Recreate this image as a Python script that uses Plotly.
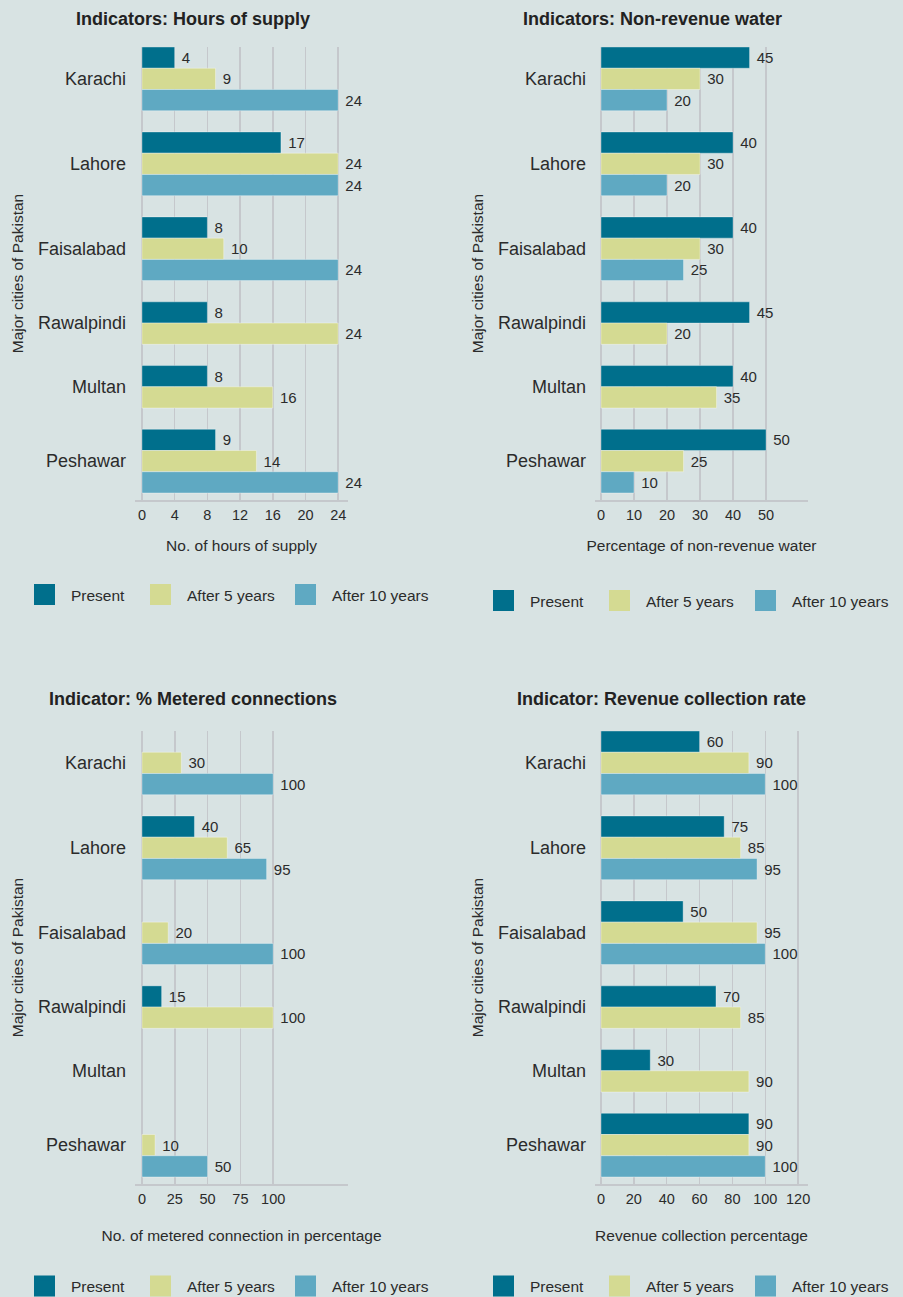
import plotly.graph_objects as go

# ---------------- data ----------------
cities = ["Karachi", "Lahore", "Faisalabad", "Rawalpindi", "Multan", "Peshawar"]
series_names = ["Present", "After 5 years", "After 10 years"]

# None = not applicable (no bar slot), 0 = slot left empty
hours_present = [4, 17, 8, 8, 8, 9]
hours_5y = [9, 24, 10, 24, 16, 14]
hours_10y = [24, 24, 24, None, None, 24]

nrw_present = [45, 40, 40, 45, 40, 50]
nrw_5y = [30, 30, 30, 20, 35, 25]
nrw_10y = [20, 20, 25, None, None, 10]

metered_present = [0, 40, 0, 15, 0, 0]
metered_5y = [30, 65, 20, 100, 0, 10]
metered_10y = [100, 95, 100, None, None, 50]

revenue_present = [60, 75, 50, 70, 30, 90]
revenue_5y = [90, 85, 95, 85, 90, 90]
revenue_10y = [100, 95, 100, None, None, 100]

hours_ticks = [0, 4, 8, 12, 16, 20, 24]
nrw_ticks = [0, 10, 20, 30, 40, 50]
metered_ticks = [0, 25, 50, 75, 100]
revenue_ticks = [0, 20, 40, 60, 80, 100, 120]

titles = ["Indicators: Hours of supply", "Indicators: Non-revenue water",
          "Indicator: % Metered connections", "Indicator: Revenue collection rate"]
x_titles = ["No. of hours of supply", "Percentage of non-revenue water",
            "No. of metered connection in percentage", "Revenue collection percentage"]
y_title = "Major cities of Pakistan"

# ---------------- style ----------------
W, H = 903, 1297
BG = "#d8e3e3"
COLORS = ["#006f8c", "#d4da92", "#5fa9c2"]
GRID = "#c5c8cc"
TEXT = "#2b2b2b"
FONT = "Liberation Sans, Arial, sans-serif"

panels = [
    dict(data=(hours_present, hours_5y, hours_10y), ticks=hours_ticks, xrange=[-0.85, 25.2],
         xdom=(135, 348), ydom=(47, 500), title_xy=(193, 19), legend_x=(34, 150, 295),
         legend_y=595, xtitle_standoff=18),
    dict(data=(nrw_present, nrw_5y, nrw_10y), ticks=nrw_ticks, xrange=[-1.82, 62.7],
         xdom=(595, 808), ydom=(47, 500), title_xy=(652, 19), legend_x=(493, 609, 755),
         legend_y=601, xtitle_standoff=18),
    dict(data=(metered_present, metered_5y, metered_10y), ticks=metered_ticks, xrange=[-5.3, 157],
         xdom=(135, 348), ydom=(731, 1184), title_xy=(193, 699), legend_x=(34, 150, 295),
         legend_y=1286.5, xtitle_standoff=24),
    dict(data=(revenue_present, revenue_5y, revenue_10y), ticks=revenue_ticks, xrange=[-3.65, 126],
         xdom=(595, 808), ydom=(731, 1184), title_xy=(661, 699), legend_x=(493, 609, 755),
         legend_y=1286.5, xtitle_standoff=24),
]

LEGEND_ITEM_WIDTH = 43
LEGEND_SYMBOL_OFFSET = 16    # px from legend origin to swatch left edge
GAP = 1.0                    # gap between city groups, in bar units
BOTTOM_PAD = 0.33            # padding under last bar, in bar units


def px(x):
    return x / W


def py(y):
    return 1 - y / H


def slot_layout(series_list):
    pos = 0.0
    ys = [[None] * len(cities) for _ in series_list]
    centers = []
    for c in range(len(cities)):
        start = pos
        for s, vals in enumerate(series_list):
            if vals[c] is not None:
                ys[s][c] = pos + 0.5
                pos += 1
        centers.append((start + pos) / 2)
        pos += GAP
    return ys, centers, pos - GAP


fig = go.Figure()
layout = dict(
    width=W, height=H, margin=dict(l=0, r=0, t=0, b=0, autoexpand=False),
    paper_bgcolor=BG, plot_bgcolor=BG, barmode="overlay",
    font=dict(family=FONT, color=TEXT, size=15),
    template="none", annotations=[],
)

legend_count = 0
for k, p in enumerate(panels):
    i = k + 1
    xa = "x" if i == 1 else f"x{i}"
    ya = "y" if i == 1 else f"y{i}"
    xkey = "xaxis" if i == 1 else f"xaxis{i}"
    ykey = "yaxis" if i == 1 else f"yaxis{i}"
    ys, centers, total = slot_layout(p["data"])

    for s, vals in enumerate(p["data"]):
        xs, yv, tx = [], [], []
        for c in range(len(cities)):
            v = vals[c]
            if v is None or v == 0:
                continue
            xs.append(v)
            yv.append(ys[s][c])
            tx.append(" " + str(v))
        fig.add_trace(go.Bar(
            x=xs, y=yv, orientation="h", width=1.0, name=series_names[s],
            text=tx, textposition="outside", cliponaxis=False, constraintext="none",
            textfont=dict(size=15, color=TEXT, family=FONT),
            marker=dict(color=COLORS[s], line=dict(color="rgba(255,255,255,0.35)", width=1)),
            xaxis=xa, yaxis=ya, showlegend=False, hoverinfo="skip",
        ))

    for s, name in enumerate(series_names):
        legend_count += 1
        lname = "legend" if legend_count == 1 else f"legend{legend_count}"
        fig.add_trace(go.Scatter(
            x=[None], y=[None], mode="markers", name=name,
            marker=dict(symbol="square", size=16, color=COLORS[s],
                        line=dict(color=COLORS[s], width=5)),
            xaxis=xa, yaxis=ya, legend=lname, showlegend=True,
        ))
        layout[lname] = dict(
            x=px(p["legend_x"][s] - LEGEND_SYMBOL_OFFSET), xanchor="left",
            y=py(p["legend_y"]), yanchor="middle", orientation="h",
            bgcolor="rgba(0,0,0,0)", borderwidth=0, itemsizing="trace",
            itemwidth=LEGEND_ITEM_WIDTH,
            font=dict(size=15.5, color=TEXT, family=FONT),
        )

    layout[xkey] = dict(
        domain=[px(p["xdom"][0]), px(p["xdom"][1])], anchor=ya,
        range=p["xrange"], tickvals=p["ticks"], ticks="", showgrid=True,
        gridcolor=GRID, gridwidth=1.5, zeroline=True, zerolinecolor=GRID, zerolinewidth=1.5,
        showline=True, linecolor=GRID, linewidth=1.5, automargin=False,
        tickfont=dict(size=14.5, color=TEXT, family=FONT), ticklabelstandoff=1,
        title=dict(text=x_titles[k], font=dict(size=15.5, color=TEXT, family=FONT),
                   standoff=p["xtitle_standoff"]),
        fixedrange=True,
    )
    layout[ykey] = dict(
        domain=[py(p["ydom"][1]), py(p["ydom"][0])], anchor=xa,
        range=[total + BOTTOM_PAD, 0], tickvals=centers, ticktext=cities, ticks="",
        showgrid=False, zeroline=False, showline=False, automargin=False,
        tickfont=dict(size=18, color=TEXT, family=FONT), ticklabelstandoff=8,
        title=dict(text=y_title, font=dict(size=15.5, color=TEXT, family=FONT), standoff=10),
        fixedrange=True,
    )
    layout["annotations"].append(dict(
        text=titles[k], x=px(p["title_xy"][0]), y=py(p["title_xy"][1]),
        xref="paper", yref="paper", xanchor="center", yanchor="middle", showarrow=False,
        font=dict(size=18, color="#222222", family=FONT, weight="bold"),
    ))

fig.update_layout(**layout)

PAGE_CSS = (
    "var st=document.createElement('style');"
    "st.innerHTML='html,body{margin:0;padding:0;overflow:hidden;width:%dpx;height:%dpx;}';"
    "document.head.appendChild(st);" % (W, H)
)
fig.write_html(
    "out.html",
    config={"displayModeBar": False, "staticPlot": True},
    post_script=PAGE_CSS,
)
